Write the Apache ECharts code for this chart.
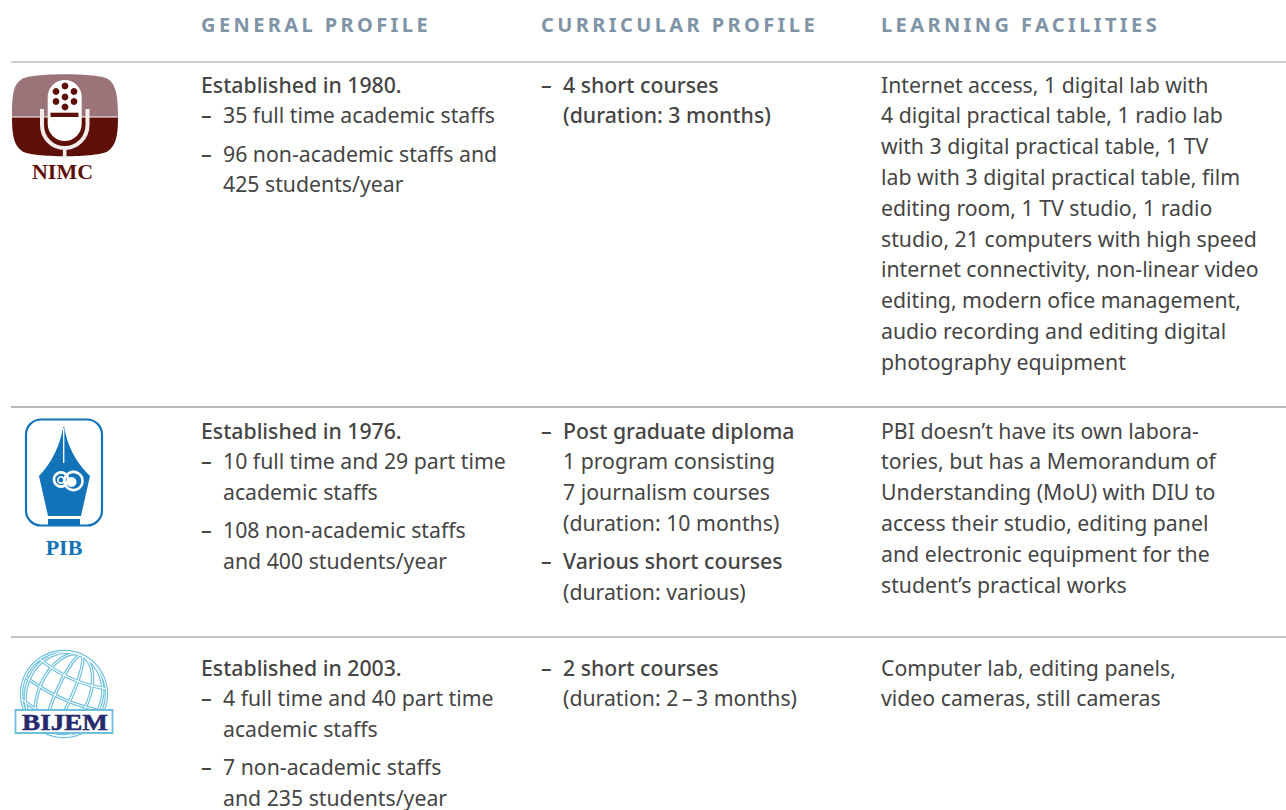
<!DOCTYPE html>
<html><head><meta charset="utf-8">
<script src="https://cdn.jsdelivr.net/npm/echarts@6/dist/echarts.min.js"></script>
<style>html,body{margin:0;background:#fff}#c{width:1286px;height:810px}
text[style*="700 20px"][style*="Noto"]{letter-spacing:3.4px}</style>
</head><body><div id="c"></div>
<script>
const headers = ["GENERAL PROFILE","CURRICULAR PROFILE","LEARNING FACILITIES"];
const logoNames = ["NIMC","PIB","BIJEM"];
// each line: [text, kind, medium] kind: 0 plain, 1 dash start, 2 continuation
const generalProfile = [
 [["Established in 1980.",0,1],["35 full time academic staffs",1],["96 non-academic staffs and",1],["425 students/year",2]],
 [["Established in 1976.",0,1],["10 full time and 29 part time",1],["academic staffs",2],["108 non-academic staffs",1],["and 400 students/year",2]],
 [["Established in 2003.",0,1],["4 full time and 40 part time",1],["academic staffs",2],["7 non-academic staffs",1],["and 235 students/year",2]]
];
const curricularProfile = [
 [["4 short courses",1,1],["(duration: 3 months)",2,1]],
 [["Post graduate diploma",1,1],["1 program consisting",2],["7 journalism courses",2],["(duration: 10 months)",2],["Various short courses",1,1],["(duration: various)",2]],
 [["2 short courses",1,1],["(duration: 2\u2009–\u20093 months)",2]]
];
const learningFacilities = [
 ["Internet access, 1 digital lab with","4 digital practical table, 1 radio lab","with 3 digital practical table, 1 TV","lab with 3 digital practical table, film","editing room, 1 TV studio, 1 radio","studio, 21 computers with high speed","internet connectivity, non-linear video","editing, modern ofice management,","audio recording and editing digital","photography equipment"],
 ["PBI doesn’t have its own labora-","tories, but has a Memorandum of","Understanding (MoU) with DIU to","access their studio, editing panel","and electronic equipment for the","student’s practical works"],
 ["Computer lab, editing panels,","video cameras, still cameras"]
];

const FONT = '"Noto Sans"', INK = '#454545', LH = 30.8, GAP = 7.5, FS = 21.25;
const rowTops = [84, 430, 667], ruleYs = [62, 407, 637];
const colX = [201, 541, 881], indent = 22;
const els = [];
const txt = (s, x, y, o={}) => els.push({type:'text', silent:true, style:Object.assign({text:s, x, y, fill:INK, font:`${o.weight||400} ${o.size||FS}px ${o.family||FONT}`, verticalAlign:'middle', align:o.align||'left'}, o.extra||{})});
const line = (x1,y1,x2,y2,c,w) => els.push({type:'line', silent:true, shape:{x1,y1,x2,y2}, style:{stroke:c, lineWidth:w}});

headers.forEach((h,i)=>txt(h, colX[i], 24.5, {weight:700, size:20, extra:{fill:'#7f94a6'}}));
const ruleColors = ['#bcbcbc','#a2a2a2','#b2b2b2'];
ruleYs.forEach((y,i)=>line(11,y,1286,y,ruleColors[i],1.4));

function bulletCol(rows, c){
  rows.forEach((lines,r)=>{
    let y = rowTops[r];
    lines.forEach((l,i)=>{
      if (i>0){ y += LH; if (l[1]===1 && lines[i-1][1]!==0) y += GAP; }
      const x = colX[c] + (l[1]===0?0:indent);
      if (l[1]===1) txt('–', colX[c], y, {weight:500});
      txt(l[0], x, y, {weight:l[2]?500:400});
    });
  });
}
bulletCol(generalProfile,0);
bulletCol(curricularProfile,1);
learningFacilities.forEach((ls,r)=>ls.forEach((s,i)=>txt(s,colX[2],rowTops[r]+i*LH)));

let pathId=0;
const P=(d,style,extra={})=>{
  const name='logoPath'+(pathId++);
  echarts.graphic.registerShape(name, echarts.graphic.extendPath(d,{}));
  els.push(Object.assign({type:name,silent:true,style},extra));
};
const SERIF='"Liberation Serif"';
/* NIMC logo */
const mauve='#9b747a',maroon='#5e1008';
P('M12 116.5 C12 92 14 84 22 79 C30 72.5 100 72.5 108 79 C116 84 118 96 118 116.5 Z',{fill:mauve});
P('M12 117.5 L118 117.5 C118 135 116 146 108 151 C100 158 30 158 22 151 C14 146 12 135 12 117.5 Z',{fill:maroon});
P('M42 109 L42 125 C42 138 52 148 64.7 148 C77 148 87.5 138 87.5 125 L87.5 109',{fill:'none',stroke:'#f4ecec',lineWidth:4});
line(64.7,147,64.7,158,'#f4ecec',3.6);
els.push({type:'rect',silent:true,shape:{x:47.7,y:80,width:34,height:61,r:17},style:{fill:'#fff'}});
els.push({type:'rect',silent:true,shape:{x:50.5,y:112.7,width:28,height:4.3},style:{fill:maroon}});
[[65,86],[56,91.5],[74,91.5],[65,97],[56,101.5],[74,101.5],[65,107]].forEach(([cx,cy])=>els.push({type:'circle',silent:true,shape:{cx,cy,r:3.4},style:{fill:maroon}}));
txt(logoNames[0],62.5,171.5,{weight:700,size:22,family:SERIF,align:'center',extra:{fill:maroon}});

/* PIB logo */
const blue='#1273b9';
els.push({type:'rect',silent:true,shape:{x:26,y:419.5,width:76,height:106,r:15},style:{fill:'#fff',stroke:blue,lineWidth:2.2}});
P('M63.2 427 Q58 456 39 476 L48 516 L81 516 L90 476 Q69 456 64.2 427 Z',{fill:blue});
els.push({type:'rect',silent:true,shape:{x:48,y:519,width:32,height:6},style:{fill:blue}});
line(63.7,428,63.7,463,'#fff',1.3);
els.push({type:'circle',silent:true,shape:{cx:61,cy:479.5,r:7},style:{fill:'none',stroke:'#fff',lineWidth:2.6}});
els.push({type:'circle',silent:true,shape:{cx:61,cy:480,r:3.2},style:{fill:'none',stroke:'#fff',lineWidth:1.5}});
els.push({type:'circle',silent:true,shape:{cx:73.5,cy:481,r:9},style:{fill:'none',stroke:'#fff',lineWidth:2.6}});
els.push({type:'circle',silent:true,shape:{cx:71.5,cy:482,r:5},style:{fill:'#fff'}});
txt(logoNames[1],64,547.5,{weight:700,size:22,family:SERIF,align:'center',extra:{fill:blue}});

/* BIJEM logo */
const sky='#6cc0dc', navy='#26296b';
const gcx=64, gcy=694, gr=43.5;
const ell=(rx,ry)=>{const k=.5523;return `M${-rx} 0 C${-rx} ${-k*ry} ${-k*rx} ${-ry} 0 ${-ry} C${k*rx} ${-ry} ${rx} ${-k*ry} ${rx} 0 C${rx} ${k*ry} ${k*rx} ${ry} 0 ${ry} C${-k*rx} ${ry} ${-rx} ${k*ry} ${-rx} 0 Z`;};
const drawGlobe=(w,c)=>{
  els.push({type:'circle',silent:true,shape:{cx:gcx,cy:gcy,r:gr-1},style:{fill:'none',stroke:c,lineWidth:w}});
  [8,25,38].forEach(rx=>P(ell(rx,gr-1),{fill:'none',stroke:c,lineWidth:w},{x:gcx,y:gcy,rotation:-0.42}));
  [-22,0,22].forEach(dy=>{
    const d=Math.sqrt(gr*gr-dy*dy)-1;
    P(`M${-d} ${dy} Q0 ${dy+10} ${d} ${dy}`,{fill:'none',stroke:c,lineWidth:w},{x:gcx,y:gcy,rotation:-0.42});
  });
};
drawGlobe(3.4,sky); drawGlobe(1.1,'#fff');
els.push({type:'rect',silent:true,shape:{x:15.5,y:710,width:97,height:23},style:{fill:'#fff',stroke:sky,lineWidth:1.8}});
els.push({type:'text',silent:true,x:65,y:722,scaleX:1.18,style:{text:logoNames[2],x:0,y:0,fill:navy,stroke:navy,lineWidth:.5,font:`700 23px ${SERIF}`,align:'center',verticalAlign:'middle'}});

const chart=echarts.init(document.getElementById('c'),null,{renderer:'svg'});
chart.setOption({animation:false,backgroundColor:'#fff',graphic:{elements:els}});
</script></body></html>
